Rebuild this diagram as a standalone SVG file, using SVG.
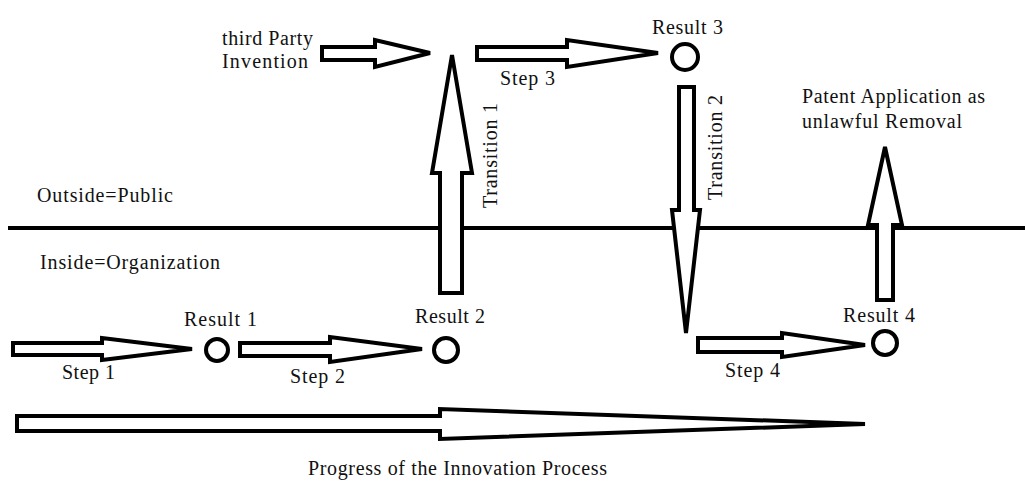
<svg xmlns="http://www.w3.org/2000/svg" width="1025" height="482" viewBox="0 0 1025 482">
  <style>
    .arrow { fill: #fff; stroke: #000; stroke-width: 4; stroke-linejoin: miter; }
    .node { fill: #fff; stroke: #000; stroke-width: 4; }
    .lbl { font-family: "Liberation Serif", "DejaVu Serif", serif; font-size: 20px; fill: #111; }
    .boundary { stroke: #000; stroke-width: 4; }
  </style>
  <rect width="1025" height="482" fill="#fff"/>

  <!-- boundary between public and organization -->
  <line class="boundary" x1="8" y1="228" x2="1025" y2="228"/>
  <text class="lbl" x="37" y="202" textLength="136">Outside=Public</text>
  <text class="lbl" x="40" y="269" textLength="180">Inside=Organization</text>

  <g id="connectors">
    <!-- Step 1 -->
    <polygon id="step1" class="arrow" points="13,343 102,343 102,338 192,349 102,360 102,355 13,355"/>
    <!-- Step 2 -->
    <polygon id="step2" class="arrow" points="240,343 330,343 330,337 422,349 330,362 330,356 240,356"/>
    <!-- third party input -->
    <polygon id="thirdparty" class="arrow" points="322,47 375,47 375,40 430,53 375,67 375,60 322,60"/>
    <!-- Transition 1 -->
    <polygon id="transition1" class="arrow" points="452,55 472,173 462,173 462,293 440,293 440,173 432,173"/>
    <!-- Step 3 -->
    <polygon id="step3" class="arrow" points="477,47 567,47 567,40 658,53 567,67 567,60 477,60"/>
    <!-- Transition 2 -->
    <polygon id="transition2" class="arrow" points="679,87 694,87 694,210 700,210 686,333 672,210 679,210"/>
    <!-- Step 4 -->
    <polygon id="step4" class="arrow" points="698,338 782,338 782,333 865,345 782,357 782,352 698,352"/>
    <!-- patent application -->
    <polygon id="patent" class="arrow" points="885,147 902,225 893,225 893,300 877,300 877,225 868,225"/>
    <!-- overall progress -->
    <polygon id="progress" class="arrow" points="17,416 440,416 440,409 865,424 440,439 440,431 17,431"/>
  </g>

  <g id="result1">
    <circle class="node" cx="217" cy="350" r="11"/>
    <text class="lbl" x="184" y="326" textLength="73">Result 1</text>
  </g>
  <g id="result2">
    <circle class="node" cx="446" cy="350" r="12"/>
    <text class="lbl" x="415" y="323" textLength="70">Result 2</text>
  </g>
  <g id="result3">
    <circle class="node" cx="685" cy="57" r="13"/>
    <text class="lbl" x="652" y="34" textLength="71">Result 3</text>
  </g>
  <g id="result4">
    <circle class="node" cx="885" cy="343" r="12"/>
    <text class="lbl" x="843" y="322" textLength="72">Result 4</text>
  </g>

  <g id="labels">
    <text class="lbl" x="62" y="379" textLength="53">Step 1</text>
    <text class="lbl" x="290" y="383" textLength="55">Step 2</text>
    <text class="lbl" x="500" y="85" textLength="55">Step 3</text>
    <text class="lbl" x="725" y="377" textLength="55">Step 4</text>
    <text class="lbl" x="222" y="45" textLength="91">third Party</text>
    <text class="lbl" x="222" y="68" textLength="86">Invention</text>
    <text class="lbl" x="802" y="103" textLength="183">Patent Application as</text>
    <text class="lbl" x="802" y="128" textLength="160">unlawful Removal</text>
    <text class="lbl" transform="translate(497,208) rotate(-90)" x="0" y="0" textLength="105">Transition 1</text>
    <text class="lbl" transform="translate(722,200) rotate(-90)" x="0" y="0" textLength="105">Transition 2</text>
    <text class="lbl" x="308" y="475" textLength="299">Progress of the Innovation Process</text>
  </g>
</svg>
